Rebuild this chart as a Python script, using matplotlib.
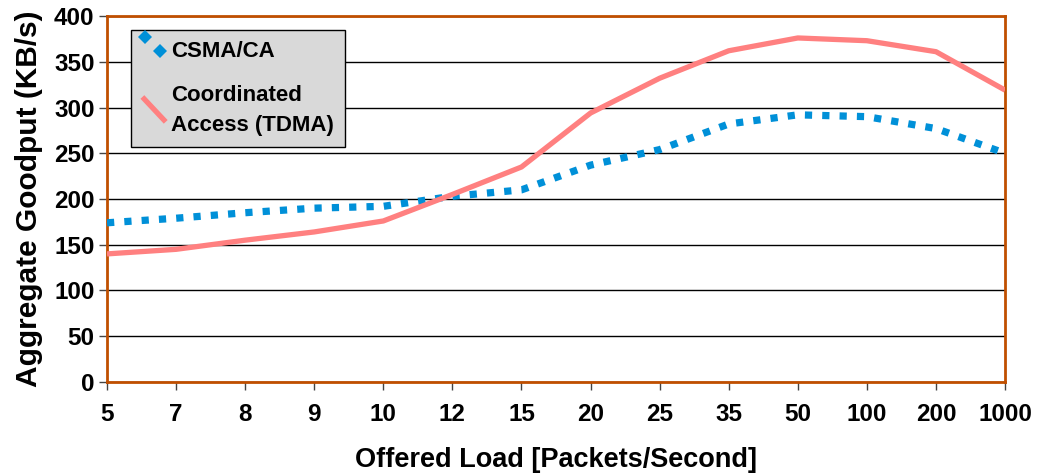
import numpy as np
import matplotlib
matplotlib.use("Agg")
import matplotlib.pyplot as plt
from matplotlib.lines import Line2D
from matplotlib.legend_handler import HandlerLine2D

plt.rcParams['font.family'] = ['Liberation Sans', 'DejaVu Sans']
plt.rcParams['font.weight'] = 'bold'

# data
loads = ['5', '7', '8', '9', '10', '12', '15', '20', '25', '35', '50', '100', '200', '1000']
csma = [174, 179, 185, 190, 192, 203, 210, 237, 254, 282, 292, 290, 277, 250]
tdma = [140, 145, 155, 164, 176, 205, 235, 294, 332, 362, 376, 373, 361, 319]


class DiagHandler(HandlerLine2D):
    # legend sample drawn as a falling diagonal
    def create_artists(self, legend, orig, xdescent, ydescent, width, height, fontsize, trans):
        ln = Line2D([-xdescent, -xdescent + width], [height * 1.4, -height * 0.2])
        self.update_prop(ln, orig, legend)
        ln.set_transform(trans)
        return [ln]


class DotsHandler(HandlerLine2D):
    # two diamonds going down to the right
    def create_artists(self, legend, orig, xdescent, ydescent, width, height, fontsize, trans):
        ln = Line2D([-xdescent + width * 0.1, -xdescent + width * 0.75],
                    [height * 1.3, height * 0.4],
                    linestyle='none', marker='D', markersize=7,
                    color=orig.get_color(), markeredgewidth=0)
        ln.set_transform(trans)
        return [ln]


fig = plt.figure(figsize=(10.37, 4.75), dpi=100)
ax = fig.add_axes([0.1032, 0.1958, 0.866, 0.7705])

x = np.arange(len(loads))
l1, = ax.plot(x, csma, color='#0090D8', lw=5.2, linestyle=(0, (1, 1.4)),
              dash_capstyle='butt', label='CSMA/CA', zorder=3)
l2, = ax.plot(x, tdma, color='#FF8080', lw=3.8, solid_capstyle='butt',
              label='Coordinated\nAccess (TDMA)', zorder=3)

ax.set_xlim(0, len(loads) - 1)
ax.set_ylim(0, 400)
ax.set_yticks(np.arange(0, 401, 50))
ax.set_xticks(x)
ax.set_xticklabels(loads)
ax.tick_params(axis='both', labelsize=17.5, length=6, width=1, color='#444444')
ax.tick_params(axis='x', pad=9)
ax.tick_params(axis='y', pad=3)
for t in ax.get_xticklabels() + ax.get_yticklabels():
    t.set_fontweight('bold')

ax.yaxis.grid(True, color='black', lw=1)
ax.set_axisbelow(True)
for s in ax.spines.values():
    s.set_color('#C04F00')
    s.set_linewidth(2)

ax.set_ylabel('Aggregate Goodput (KB/s)', fontsize=21.5, fontweight='bold', labelpad=8)
ax.set_xlabel('Offered Load [Packets/Second]', fontsize=19.5, fontweight='bold', labelpad=15)

leg = ax.legend(loc='upper left', bbox_to_anchor=(0.027, 0.962), borderaxespad=0,
                fancybox=False, framealpha=1, facecolor='#D9D9D9', edgecolor='black',
                prop={'size': 16, 'weight': 'bold'}, handlelength=1.05, handletextpad=0.25,
                labelspacing=1.05, borderpad=0.5,
                handler_map={l1: DotsHandler(), l2: DiagHandler()})
leg.get_frame().set_linewidth(1)
leg.get_texts()[1].set_linespacing(1.55)

fig.savefig('out.png', dpi=100)
